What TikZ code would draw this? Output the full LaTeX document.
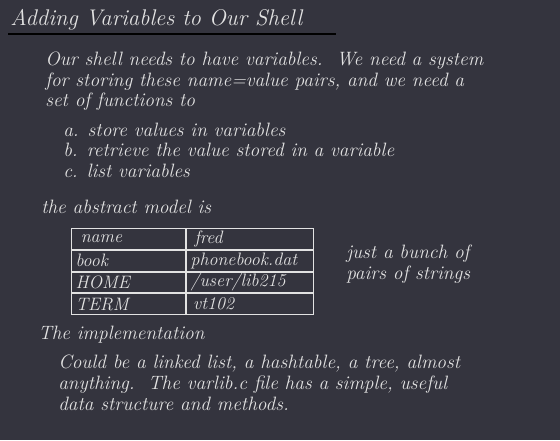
\documentclass[tikz,border=0pt]{standalone}
\usepackage{xcolor}
\usetikzlibrary{positioning}

\definecolor{slate}{RGB}{52,52,62}
\definecolor{chalk}{RGB}{226,226,226}

\tikzset{
  chalk/.style={text=chalk, font=\itshape\fontsize{14.5}{15.4}\selectfont, align=left, inner sep=0pt, anchor=base west},
  heading/.style={chalk, font=\itshape\fontsize{17}{19}\selectfont},
  cell/.style={draw=chalk, line width=0.75pt, text=chalk, font=\itshape\fontsize{13.5}{14}\selectfont,
    minimum height=15.56pt, inner xsep=3pt, inner ysep=0pt, align=left},
  keycell/.style={cell, text width=79.5pt},
  valcell/.style={cell, text width=89.6pt},
}

\begin{document}
\begin{tikzpicture}[x=0.75pt, y=-0.75pt]
    \fill[slate] (0,0) rectangle (560,440);
    \useasboundingbox (0,0) rectangle (560,440);

    \node[heading] (title) at (10,25) {Adding Variables to Our Shell};
    \coordinate (ruleL) at (8,34);
    \coordinate (ruleR) at (336,34);
    \draw[chalk, line width=1.5pt] (ruleL) -- (ruleR);

    % multi-line nodes sit on the baseline of their last line
    \node[chalk] (intro) at (45,106.7) {Our shell needs to have variables.\ \ We need a system\\
        for storing these name=value pairs, and we need a\\
        set of functions to};
    \node[chalk] (tasks) at (63,177.5) {a. store values in variables\\
        b. retrieve the value stored in a variable\\
        c. list variables};

    \node[chalk] (model) at (41,213) {the abstract model is};

    % table of name/value pairs
    \node[keycell, anchor=north west] (k1) at (71,228) {\hspace{4pt}name};
    \node[valcell, right=0pt of k1] (v1) {\hspace{3pt}fred};
    \node[keycell, below=0pt of k1] (k2) {book};
    \node[valcell, right=0pt of k2] (v2) {phonebook.dat};
    \node[keycell, below=0pt of k2] (k3) {HOME};
    \node[valcell, right=0pt of k3] (v3) {/user/lib215};
    \node[keycell, below=0pt of k3] (k4) {TERM};
    \node[valcell, right=0pt of k4] (v4) {\hspace{2pt}vt102};

    \node[chalk] (note) at (346,279) {just a bunch of\\ pairs of strings};

    \node[chalk] (impl) at (38,339) {The implementation};
    \node[chalk] (impltext) at (58,410) {Could be a linked list, a hashtable, a tree, almost\\
        anything.\ \ The varlib.c file has a simple, useful\\
        data structure and methods.};
\end{tikzpicture}
\end{document}
